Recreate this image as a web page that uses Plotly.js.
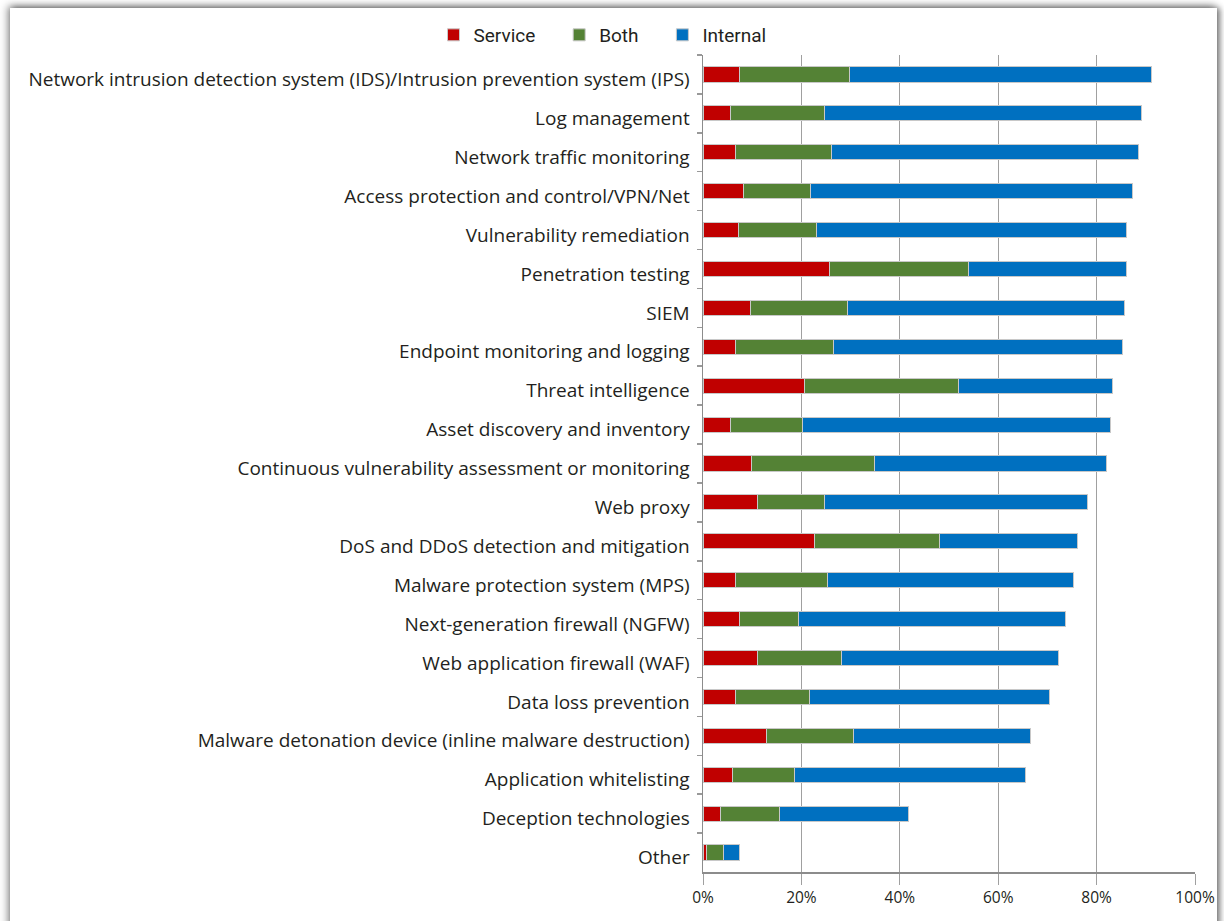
<!DOCTYPE html>
<html>
<head>
<meta charset="utf-8">
<script src="https://cdn.plot.ly/plotly-3.0.1.min.js"></script>
<style>
  html, body { margin: 0; padding: 0; width: 1224px; height: 921px; overflow: hidden; background: #ffffff; }
  #panel { position: absolute; left: 10px; top: 8px; width: 1207px; height: 940px; background: #ffffff;
           box-shadow: -2px -2px 8px rgba(0,0,0,0.45), 3px 0 6px rgba(0,0,0,0.45); }
  #chart { position: absolute; left: 0; top: 0; width: 1224px; height: 921px; }
</style>
</head>
<body>
<div id="panel"></div>
<div id="chart"></div>
<script>
const categories = [
  "Network intrusion detection system (IDS)/Intrusion prevention system (IPS)",
  "Log management",
  "Network traffic monitoring",
  "Access protection and control/VPN/Net",
  "Vulnerability remediation",
  "Penetration testing",
  "SIEM",
  "Endpoint monitoring and logging",
  "Threat intelligence",
  "Asset discovery and inventory",
  "Continuous vulnerability assessment or monitoring",
  "Web proxy",
  "DoS and DDoS detection and mitigation",
  "Malware protection system (MPS)",
  "Next-generation firewall (NGFW)",
  "Web application firewall (WAF)",
  "Data loss prevention",
  "Malware detonation device (inline malware destruction)",
  "Application whitelisting",
  "Deception technologies",
  "Other"
];
const seriesNames = ["Service", "Both", "Internal"];
const service  = [7.5, 5.5, 6.6, 8.3, 7.3, 25.8, 9.6, 6.7, 20.6, 5.5, 9.9, 11.1, 22.6, 6.7, 7.5, 11.1, 6.7, 13.0, 6.0, 3.5, 0.7];
const both     = [22.2, 19.2, 19.6, 13.5, 15.8, 28.1, 19.8, 19.8, 31.3, 14.8, 25.0, 13.6, 25.4, 18.7, 12.0, 17.1, 14.9, 17.5, 12.6, 12.0, 3.4];
const internal = [61.5, 64.5, 62.3, 65.4, 62.9, 32.1, 56.2, 58.8, 31.4, 62.5, 47.2, 53.4, 28.1, 50.0, 54.2, 44.0, 48.9, 36.1, 46.9, 26.2, 3.4];
const xTickVals = [0, 20, 40, 60, 80, 100];
const xTickText = ["0%", "20%", "40%", "60%", "80%", "100%"];

const lineStyle = { color: "#c8c8c8", width: 1 };
const pad = "\u00a0\u00a0\u00a0\u00a0";
function mk(name, vals, color) {
  return { type: "bar", orientation: "h", name: name + pad, y: categories, x: vals,
           marker: { color: color, line: lineStyle }, hoverinfo: "x+name" };
}
const data = [
  mk(seriesNames[0], service, "#c00000"),
  mk(seriesNames[1], both, "#548235"),
  mk(seriesNames[2], internal, "#0070c0")
];

const layout = {
  width: 1224, height: 921,
  paper_bgcolor: "rgba(0,0,0,0)",
  plot_bgcolor: "rgba(0,0,0,0)",
  barmode: "stack",
  bargap: 0.61,
  margin: { l: 703, r: 29, t: 55, b: 49 },
  font: { family: "Open Sans, sans-serif", color: "#231f20" },
  showlegend: true,
  legend: {
    orientation: "h", xref: "container", yref: "container",
    x: 0.5, xanchor: "center", y: 1 - 35 / 921, yanchor: "middle",
    font: { family: "Roboto, sans-serif", size: 19, color: "#231f20" },
    traceorder: "normal", itemclick: false
  },
  xaxis: {
    range: [0, 100], tickvals: xTickVals, ticktext: xTickText,
    showgrid: true, gridcolor: "#a0a0a0", gridwidth: 1,
    showline: true, linecolor: "#8c8c8c", linewidth: 1.5,
    ticks: "outside", ticklen: 11, tickcolor: "#a0a0a0", tickwidth: 1,
    tickfont: { size: 15.5, color: "#231f20" }, zeroline: false, fixedrange: true
  },
  yaxis: {
    autorange: "reversed", type: "category",
    showgrid: false, showline: true, linecolor: "#8c8c8c", linewidth: 1.5,
    ticks: "outside", tickson: "boundaries", ticklen: 5, tickcolor: "#999999", tickwidth: 1.5,
    ticklabelstandoff: 8, ticklabelshift: -5,
    tickfont: { size: 19, color: "#231f20" }, fixedrange: true
  }
};

Plotly.newPlot("chart", data, layout, { displayModeBar: false, staticPlot: true });
</script>
</body>
</html>
